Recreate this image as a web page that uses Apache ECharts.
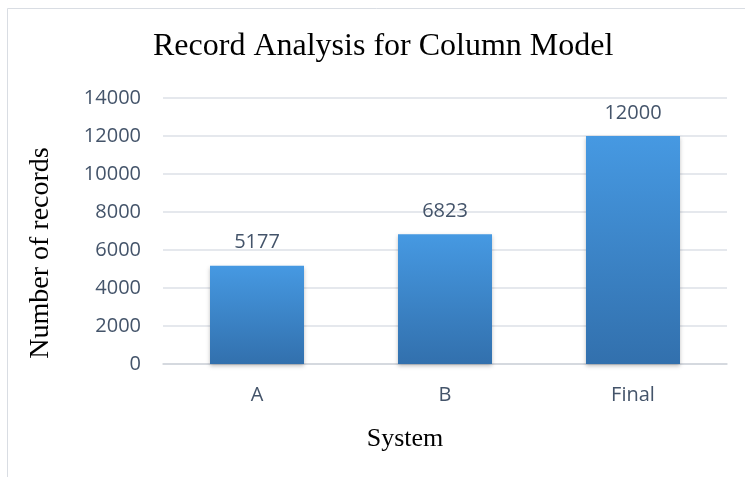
<!DOCTYPE html>
<html>
<head>
<meta charset="utf-8">
<script src="https://cdn.jsdelivr.net/npm/echarts@6/dist/echarts.min.js"></script>
<style>
  html, body { margin: 0; padding: 0; background: #fff; }
  #chart-container { width: 745px; height: 477px; }
</style>
</head>
<body>
<div id="chart-container"></div>
<script>
var dom = document.getElementById('chart-container');
var myChart = echarts.init(dom, null, { renderer: 'canvas' });

// data
const categories = ['A', 'B', 'Final'];
const records = [5177, 6823, 12000];

const TEXT_COLOR = '#44546a';
const SERIF = '"Liberation Serif", "Times New Roman", serif';
const SANS = '"Open Sans", "Noto Sans", sans-serif';

var option = {
  backgroundColor: '#fff',
  title: {
    text: 'Record Analysis for Column Model',
    left: 148,
    top: 26,
    textStyle: { fontFamily: SERIF, fontWeight: 'normal', fontSize: 32, color: '#000' }
  },
  grid: { left: 163, right: 18, top: 98, bottom: 113 },
  xAxis: {
    type: 'category',
    data: categories,
    name: 'System',
    nameLocation: 'middle',
    nameGap: 62,
    nameTextStyle: { fontFamily: SERIF, fontSize: 26, color: '#000', padding: [0, 80, 0, 0] },
    axisTick: { show: false },
    axisLine: { lineStyle: { color: '#d0d4da', width: 1.5 } },
    axisLabel: { fontFamily: SANS, fontSize: 20, color: TEXT_COLOR, margin: 21 }
  },
  yAxis: {
    type: 'value',
    min: 0,
    max: 14000,
    interval: 2000,
    name: 'Number of records',
    nameLocation: 'middle',
    nameGap: 108,
    nameTextStyle: { fontFamily: SERIF, fontSize: 28, color: '#000', padding: [0, 44, 0, 0] },
    axisLine: { show: false },
    axisTick: { show: false },
    axisLabel: {
      fontFamily: SANS, fontSize: 20, color: TEXT_COLOR, margin: 22,
      formatter: function (v) { return String(v); }
    },
    splitLine: { lineStyle: { color: '#dde1e7', width: 1.5 } }
  },
  series: [{
    type: 'bar',
    data: records,
    barWidth: '50%',
    itemStyle: {
      color: new echarts.graphic.LinearGradient(0, 0, 0, 1, [
        { offset: 0, color: '#4699e2' },
        { offset: 1, color: '#3270ad' }
      ]),
      shadowColor: 'rgba(0,0,0,0.25)',
      shadowBlur: 4,
      shadowOffsetY: 2
    },
    label: {
      show: true,
      position: 'top',
      distance: 13,
      fontFamily: SANS,
      fontSize: 20,
      color: TEXT_COLOR
    }
  }],
  graphic: [{
    type: 'rect',
    shape: { x: 7.5, y: 8.5, width: 760, height: 480 },
    style: { fill: 'none', stroke: '#d9dde3', lineWidth: 1 },
    silent: true
  }]
};

myChart.setOption(option);
window.addEventListener('resize', myChart.resize);
</script>
</body>
</html>
